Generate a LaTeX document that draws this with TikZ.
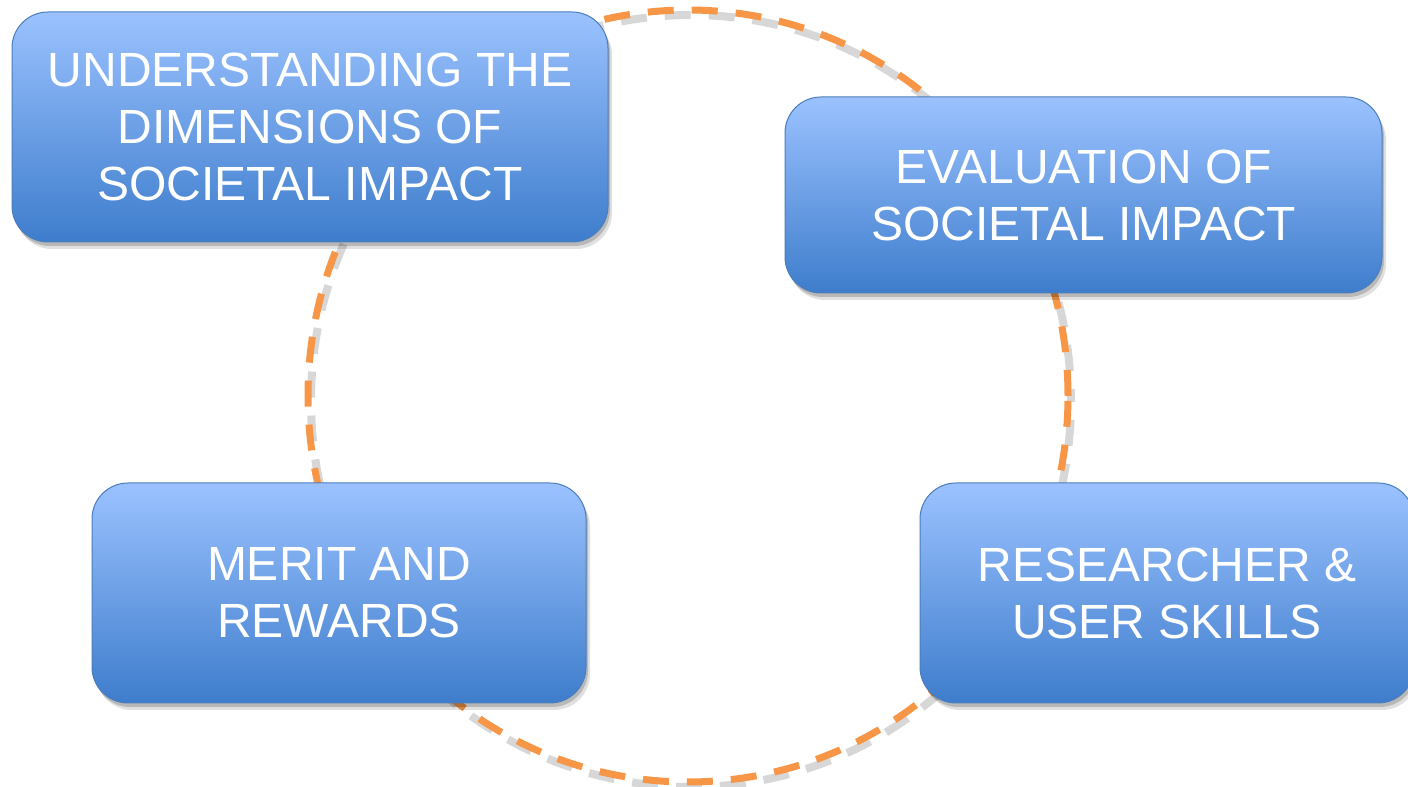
\documentclass[tikz,border=0pt]{standalone}
\usepackage{fontspec}
\setmainfont{Liberation Sans}
\usepackage{tikz}
\usetikzlibrary{positioning,shadows}
\definecolor{boxtop}{HTML}{9BC2FF}
\definecolor{boxbottom}{HTML}{3E7DCC}
\definecolor{boxline}{HTML}{4A7EBB}
\definecolor{ringorange}{HTML}{F79646}
\tikzset{
  stagebox/.style={draw=boxline,line width=1bp,rounded corners=36bp,top color=boxtop,bottom color=boxbottom,text=white,align=center,inner sep=0pt,font=\fontsize{48bp}{57bp}\selectfont,
    drop shadow={shadow xshift=4bp,shadow yshift=-7bp,opacity=0.12,fill=black},
    drop shadow={shadow xshift=2bp,shadow yshift=-4bp,opacity=0.18,fill=black}},
  ring/.style={draw=ringorange,line width=7bp,dash pattern=on 26bp off 18bp},
  ringshadow/.style={draw=black!35,line width=8bp,dash pattern=on 26bp off 18bp,dash phase=14bp,opacity=0.45},
}

\begin{document}
\begin{tikzpicture}[>=latex,line join=bevel,]
\useasboundingbox (0bp,0bp) rectangle (1408bp,787bp);
%%
\coordinate (hub) at (688bp,391bp);
\draw [ringshadow] ([shift={(3bp,-5bp)}]hub) ellipse [x radius=380bp,y radius=386bp];
\draw [ring] (hub) ellipse [x radius=380bp,y radius=386bp];
%
\node (understanding) at (310bp,660bp) [stagebox,minimum width=596bp,minimum height=230bp] {UNDERSTANDING THE\\DIMENSIONS OF\\SOCIETAL IMPACT};
  \node (evaluation) at (1083.5bp,592bp) [stagebox,minimum width=597bp,minimum height=196bp] {EVALUATION OF\\SOCIETAL IMPACT};
  \node (merit) at (339bp,194bp) [stagebox,minimum width=494bp,minimum height=220bp] {MERIT AND\\REWARDS};
  \node (skills) at (1167bp,194bp) [stagebox,minimum width=494bp,minimum height=220bp] {RESEARCHER \&\\USER SKILLS};
%
\end{tikzpicture}
\end{document}
